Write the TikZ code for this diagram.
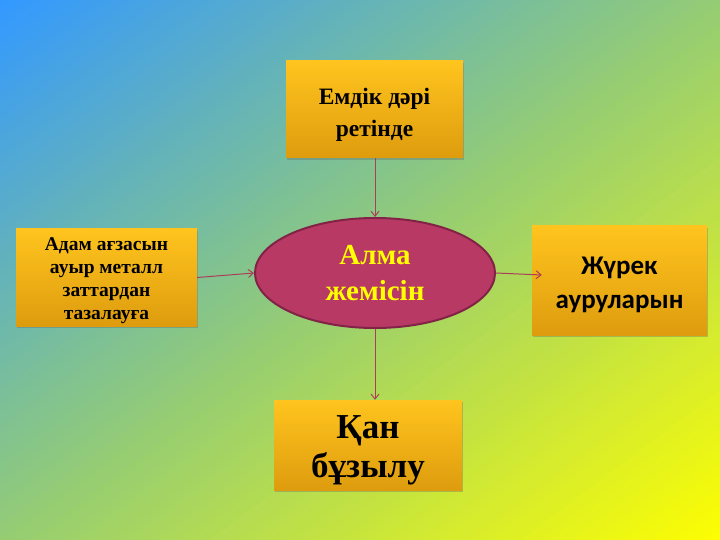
\documentclass[tikz,border=0pt]{standalone}
\usepackage{fontspec}
\setmainfont{Liberation Serif}
\newfontfamily\calibri{Carlito}
\usetikzlibrary{arrows.meta,shadows,shapes.geometric}
\definecolor{bgblue}{RGB}{51,153,255}
\definecolor{bggreen}{RGB}{150,205,115}
\definecolor{bgyellow}{RGB}{255,255,0}
\definecolor{boxtop}{RGB}{255,196,30}
\definecolor{boxbot}{RGB}{222,156,14}
\definecolor{ellfill}{RGB}{184,58,100}
\definecolor{elldraw}{RGB}{130,34,70}
\definecolor{conncol}{RGB}{170,62,90}
\definecolor{txtyellow}{RGB}{255,255,0}
\tikzset{
  goldbox/.style={rectangle, minimum width=#1, top color=boxtop, bottom color=boxbot,
    draw=none, inner sep=0pt,
    drop shadow={shadow xshift=1pt, shadow yshift=-2pt, opacity=0.35, fill=black!60}},
  boxtext/.style={align=center, inner sep=0pt, text=black},
  apple/.style={ellipse, fill=ellfill, draw=elldraw, line width=2pt, inner sep=0pt,
    minimum width=240pt, minimum height=110pt, align=center, text=txtyellow},
  conn/.style={draw=conncol, line width=1pt, -{Straight Barb[length=5pt,width=8pt]}}
}
\begin{document}
\begin{tikzpicture}[x=1pt,y=-1pt]
\useasboundingbox (0pt,0pt) rectangle (720pt,-540pt);
\begin{scope}
\clip (0,0) rectangle (720,540);
\foreach \i in {0,...,143}{
  \pgfmathsetmacro\sa{\i/72}
  \pgfmathsetmacro\sb{(\i+1.8)/72}
  \ifnum\i<72
    \pgfmathtruncatemacro\pp{100*\i/72}
    \colorlet{stripc}{bggreen!\pp!bgblue}
  \else
    \pgfmathtruncatemacro\pp{100*(\i-72)/72}
    \colorlet{stripc}{bgyellow!\pp!bggreen}
  \fi
  \fill[stripc] (720*\sa,0) -- (720*\sb,0) -- (0,540*\sb) -- (0,540*\sa) -- cycle;
}
\end{scope}
\node[goldbox=177pt, minimum height=97pt] (top) at (374.5,109.5) {};
\node[boxtext, font=\bfseries\fontsize{23.5}{32}\selectfont] (toptext)
  at ([yshift=-5pt]top.center) {Емдік дәрі\\ретінде};
\node[goldbox=181pt, minimum height=97pt] (left) at (106.5,277.5) {};
\node[boxtext, font=\bfseries\fontsize{19.5}{23}\selectfont] (lefttext)
  at ([yshift=-3pt]left.center) {Адам ағзасын\\ауыр металл\\заттардан\\тазалауға};
\node[goldbox=175pt, minimum height=109pt] (right) at (619.5,280.5) {};
\node[boxtext, font=\calibri\bfseries\fontsize{27}{34}\selectfont] (righttext)
  at ([yshift=-4.5pt]right.center) {Жүрек\\ауруларын};
\node[goldbox=188pt, minimum height=90pt] (bottom) at (368,445) {};
\node[boxtext, font=\bfseries\fontsize{35}{39}\selectfont] (bottomtext)
  at ([yshift=-5pt]bottom.center) {Қан\\бұзылу};
\node[apple, font=\bfseries\fontsize{29}{36}\selectfont] (ell) at (375,273) {Алма\\жемісін};
\draw[conn] (top.south -| ell.north) -- (ell.north);
\draw[conn] (left.east) -- (ell.west);
\draw[conn] (ell.east) -- ([xshift=10pt,yshift=5.5pt]right.west);
\draw[conn] (ell.south) -- (ell.south |- bottom.north);
\end{tikzpicture}
\end{document}
